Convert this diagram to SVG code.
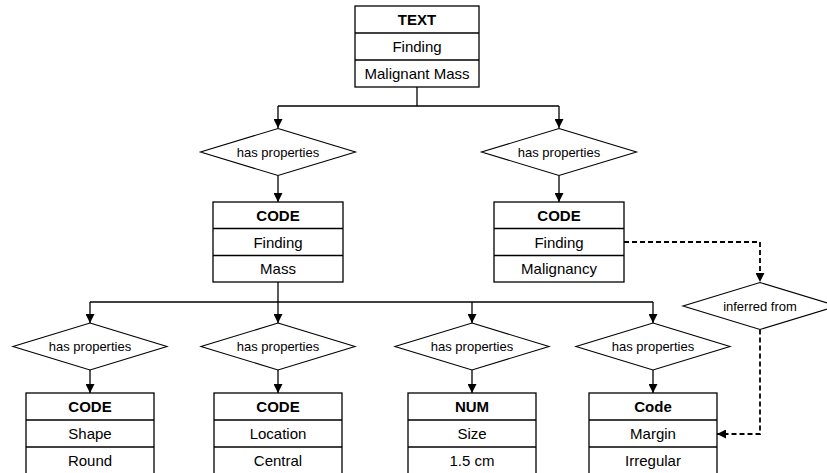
<svg xmlns="http://www.w3.org/2000/svg" width="827" height="473" viewBox="0 0 827 473">
<style>
.box{fill:#fff;stroke:#000;stroke-width:1.3}
.dia{fill:#fff;stroke:#000;stroke-width:1.1}
.t{font-family:"Liberation Sans",Arial,sans-serif;font-size:15px;text-anchor:middle;fill:#000}
.b{font-weight:bold}
.d{font-family:"Liberation Sans",Arial,sans-serif;font-size:13px;text-anchor:middle;fill:#000}
.ln{fill:none;stroke:#000;stroke-width:1.3}
.dash{fill:none;stroke:#000;stroke-width:1.8;stroke-dasharray:5,3}
</style>
<defs>
<marker id="ah" viewBox="0 0 10 10" refX="10" refY="5" markerWidth="9" markerHeight="9" markerUnits="userSpaceOnUse" orient="auto">
<path d="M0,0 L10,5 L0,10 z" fill="#000"/>
</marker>
</defs>
<g id="connectors">
<path class="ln" d="M417,87 V106"/>
<path class="ln" d="M278,106 H559"/>
<path class="ln" d="M278,106 V128" marker-end="url(#ah)"/>
<path class="ln" d="M559,106 V128" marker-end="url(#ah)"/>
<path class="ln" d="M278,175.5 V202" marker-end="url(#ah)"/>
<path class="ln" d="M559,175.5 V202" marker-end="url(#ah)"/>
<path class="ln" d="M278,282 V323" marker-end="url(#ah)"/>
<path class="ln" d="M90,302 H653"/>
<path class="ln" d="M90,302 V323" marker-end="url(#ah)"/>
<path class="ln" d="M472,302 V323" marker-end="url(#ah)"/>
<path class="ln" d="M653,302 V323" marker-end="url(#ah)"/>
<path class="ln" d="M90,370 V393" marker-end="url(#ah)"/>
<path class="ln" d="M278,370 V393" marker-end="url(#ah)"/>
<path class="ln" d="M472,370 V393" marker-end="url(#ah)"/>
<path class="ln" d="M653,370 V393" marker-end="url(#ah)"/>
<path class="dash" d="M624,242 H760 V282" marker-end="url(#ah)"/>
<path class="dash" d="M760,329.5 V434 H717" marker-end="url(#ah)"/>
</g>
<g id="node-text">
<rect class="box" x="355" y="6" width="124" height="81"/>
<line class="ln" x1="355" y1="33" x2="479" y2="33"/>
<line class="ln" x1="355" y1="60" x2="479" y2="60"/>
<text class="t b" x="417" y="25">TEXT</text>
<text class="t" x="417" y="52">Finding</text>
<text class="t" x="417" y="79">Malignant Mass</text>
</g>
<g id="dia-top-left">
<polygon class="dia" points="278,128.5 355.5,152 278,175.5 200.5,152"/>
<text class="d" x="278" y="156.5">has properties</text>
</g>
<g id="dia-top-right">
<polygon class="dia" points="559,128.5 636.5,152 559,175.5 481.5,152"/>
<text class="d" x="559" y="156.5">has properties</text>
</g>
<g id="node-code-mass">
<rect class="box" x="213" y="202" width="130" height="80"/>
<line class="ln" x1="213" y1="228.5" x2="343" y2="228.5"/>
<line class="ln" x1="213" y1="255.5" x2="343" y2="255.5"/>
<text class="t b" x="278" y="220.5">CODE</text>
<text class="t" x="278" y="247.5">Finding</text>
<text class="t" x="278" y="274">Mass</text>
</g>
<g id="node-code-malignancy">
<rect class="box" x="494" y="202" width="130" height="80"/>
<line class="ln" x1="494" y1="228.5" x2="624" y2="228.5"/>
<line class="ln" x1="494" y1="255.5" x2="624" y2="255.5"/>
<text class="t b" x="559" y="220.5">CODE</text>
<text class="t" x="559" y="247.5">Finding</text>
<text class="t" x="559" y="274">Malignancy</text>
</g>
<g id="dia-inferred">
<polygon class="dia" points="760,282.5 837,306 760,329.5 683,306"/>
<text class="d" x="760" y="310.5">inferred from</text>
</g>
<g id="dia-b1">
<polygon class="dia" points="90,323 167,346.5 90,370 13,346.5"/>
<text class="d" x="90" y="351">has properties</text>
</g>
<g id="dia-b2">
<polygon class="dia" points="278,323 355,346.5 278,370 201,346.5"/>
<text class="d" x="278" y="351">has properties</text>
</g>
<g id="dia-b3">
<polygon class="dia" points="472,323 549,346.5 472,370 395,346.5"/>
<text class="d" x="472" y="351">has properties</text>
</g>
<g id="dia-b4">
<polygon class="dia" points="653,323 730,346.5 653,370 576,346.5"/>
<text class="d" x="653" y="351">has properties</text>
</g>
<g id="node-shape">
<rect class="box" x="26" y="393" width="128" height="81"/>
<line class="ln" x1="26" y1="420" x2="154" y2="420"/>
<line class="ln" x1="26" y1="447" x2="154" y2="447"/>
<text class="t b" x="90" y="412">CODE</text>
<text class="t" x="90" y="439">Shape</text>
<text class="t" x="90" y="466">Round</text>
</g>
<g id="node-location">
<rect class="box" x="214" y="393" width="128" height="81"/>
<line class="ln" x1="214" y1="420" x2="342" y2="420"/>
<line class="ln" x1="214" y1="447" x2="342" y2="447"/>
<text class="t b" x="278" y="412">CODE</text>
<text class="t" x="278" y="439">Location</text>
<text class="t" x="278" y="466">Central</text>
</g>
<g id="node-size">
<rect class="box" x="408" y="393" width="128" height="81"/>
<line class="ln" x1="408" y1="420" x2="536" y2="420"/>
<line class="ln" x1="408" y1="447" x2="536" y2="447"/>
<text class="t b" x="472" y="412">NUM</text>
<text class="t" x="472" y="439">Size</text>
<text class="t" x="472" y="466">1.5 cm</text>
</g>
<g id="node-margin">
<rect class="box" x="589" y="393" width="128" height="81"/>
<line class="ln" x1="589" y1="420" x2="717" y2="420"/>
<line class="ln" x1="589" y1="447" x2="717" y2="447"/>
<text class="t b" x="653" y="412">Code</text>
<text class="t" x="653" y="439">Margin</text>
<text class="t" x="653" y="466">Irregular</text>
</g>
</svg>
